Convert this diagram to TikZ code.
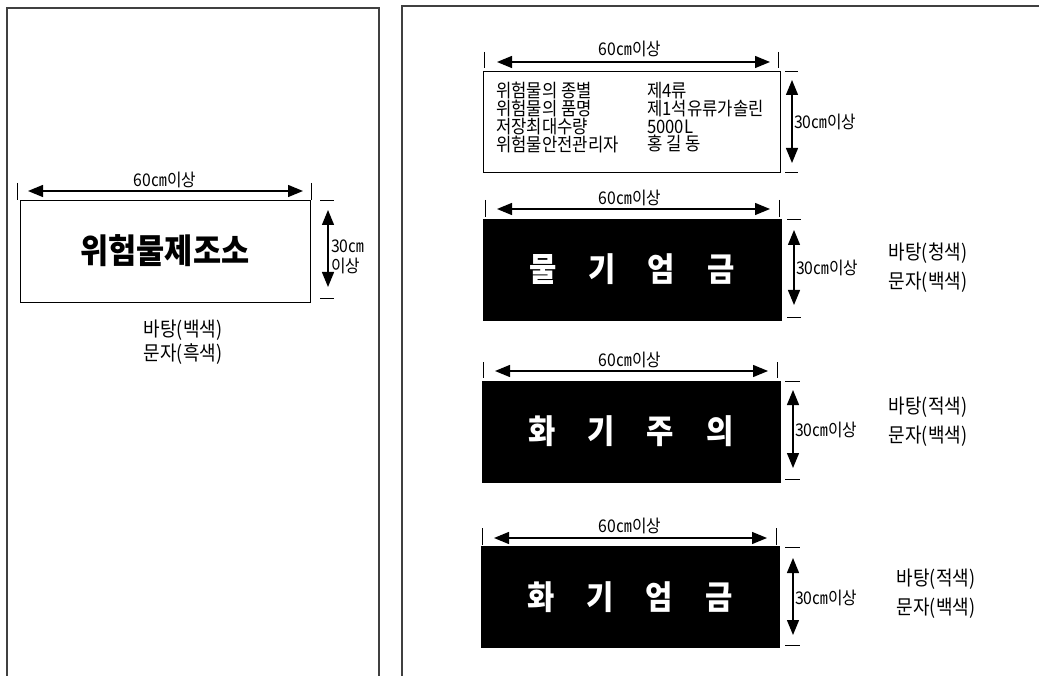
\documentclass[tikz,border=0pt]{standalone}
\usepackage{fontspec}
\setmainfont[FakeStretch=0.9]{Noto Sans CJK KR}
\usetikzlibrary{arrows.meta}
\tikzset{
  panel/.style={draw=black!75, line width=1.3pt},
  signbox/.style={draw=black, line width=0.9pt, inner sep=0pt, minimum width=298pt, minimum height=101pt},
  blacksign/.style={fill=black, draw=black, inner sep=0pt, minimum width=298pt, minimum height=101pt,
    font=\fontsize{33}{33}\selectfont\bfseries, text=white},
  dimarrow/.style={line width=1.3pt, {Triangle[length=15pt,width=12pt]}-{Triangle[length=15pt,width=12pt]}},
  tickline/.style={line width=0.9pt},
  dimtext/.style={font=\fontsize{17.5}{20}\selectfont, inner sep=0pt},
  notetext/.style={font=\fontsize{20}{29}\selectfont, align=center, inner sep=0pt},
  infotext/.style={font=\fontsize{18.5}{17.7}\selectfont, align=left, inner sep=0pt, anchor=west},
}
\newcommand\gapsp{\hspace{32pt}}
\begin{document}
\begin{tikzpicture}[x=1pt,y=-1pt]
\useasboundingbox (0,0) rectangle (1039,676);
% panels
\draw[panel] (7,676) -- (7,8) -- (379,8) -- (379,676);
\draw[panel] (402,676) -- (402,6) -- (1039,6);

% ---------- left sign ----------
\node[signbox, minimum width=290pt, minimum height=102pt, font=\fontsize{34}{34}\selectfont\bfseries] (s0) at (165,251) {위험물제조소};
\draw[tickline] (17,183) -- (17,200);
\draw[tickline] (311,183) -- (311,200);
\coordinate (w0a) at (28,191); \coordinate (w0b) at (303,191);
\draw[dimarrow] (w0a) -- (w0b);
\node[dimtext] (l0) at (165,180) {60㎝이상};
\draw[tickline] (320,200) -- (334,200);
\draw[tickline] (320,298) -- (334,298);
\coordinate (h0a) at (328,210); \coordinate (h0b) at (328,287);
\draw[dimarrow] (h0a) -- (h0b);
\node[dimtext, anchor=west, align=left] (k0) at (331,257) {30㎝\\이상};
\node[notetext, font=\fontsize{20}{24}\selectfont] (n0) at (183,342) {바탕(백색)\\문자(흑색)};

% ---------- info sign ----------
\node[signbox, minimum width=297pt] (s1) at (631.5,121.5) {};
\draw[tickline] (484,52) -- (484,68);
\draw[tickline] (778,52) -- (778,68);
\coordinate (w1a) at (497,62); \coordinate (w1b) at (770,62);
\draw[dimarrow] (w1a) -- (w1b);
\node[dimtext] (l1) at (630,49) {60㎝이상};
\draw[tickline] (785,71) -- (798,71);
\draw[tickline] (785,172) -- (798,172);
\coordinate (h1a) at (792,80); \coordinate (h1b) at (792,163);
\draw[dimarrow] (h1a) -- (h1b);
\node[dimtext, anchor=west] (k1) at (794,122) {30㎝이상};
\node[infotext] (i1) at (496,117.5) {위험물의 종별\\위험물의 품명\\저장최대수량\\위험물안전관리자};
\node[infotext] (i2) at (647,117.5) {제4류\\제1석유류가솔린\\5000L\\홍 길 동};

% ---------- sign 2 ----------
\node[blacksign] (s2) at (632,269.5) {물\gapsp 기\gapsp 엄\gapsp 금};
\draw[tickline] (485,200) -- (485,217);
\draw[tickline] (779,200) -- (779,217);
\coordinate (w2a) at (497,209); \coordinate (w2b) at (770,209);
\draw[dimarrow] (w2a) -- (w2b);
\node[dimtext] (l2) at (630,198) {60㎝이상};
\draw[tickline] (787,219) -- (801,219);
\draw[tickline] (787,317) -- (801,317);
\coordinate (h2a) at (794,230); \coordinate (h2b) at (794,305);
\draw[dimarrow] (h2a) -- (h2b);
\node[dimtext, anchor=west] (k2) at (796,268) {30㎝이상};
\node[notetext] (n2) at (928,268) {바탕(청색)\\문자(백색)};

% ---------- sign 3 ----------
\node[blacksign] (s3) at (631,431.5) {화\gapsp 기\gapsp 주\gapsp 의};
\draw[tickline] (483,362) -- (483,378);
\draw[tickline] (777,362) -- (777,378);
\coordinate (w3a) at (495,371); \coordinate (w3b) at (768,371);
\draw[dimarrow] (w3a) -- (w3b);
\node[dimtext] (l3) at (630,360) {60㎝이상};
\draw[tickline] (785,381) -- (800,381);
\draw[tickline] (785,479) -- (800,479);
\coordinate (h3a) at (793,390); \coordinate (h3b) at (793,468);
\draw[dimarrow] (h3a) -- (h3b);
\node[dimtext, anchor=west] (k3) at (795,430) {30㎝이상};
\node[notetext] (n3) at (928,422) {바탕(적색)\\문자(백색)};

% ---------- sign 4 ----------
\node[blacksign] (s4) at (630,597) {화\gapsp 기\gapsp 엄\gapsp 금};
\draw[tickline] (482,528) -- (482,545);
\draw[tickline] (776,528) -- (776,545);
\coordinate (w4a) at (494,538); \coordinate (w4b) at (767,538);
\draw[dimarrow] (w4a) -- (w4b);
\node[dimtext] (l4) at (630,526) {60㎝이상};
\draw[tickline] (785,547) -- (800,547);
\draw[tickline] (785,645) -- (800,645);
\coordinate (h4a) at (793,558); \coordinate (h4b) at (793,635);
\draw[dimarrow] (h4a) -- (h4b);
\node[dimtext, anchor=west] (k4) at (795,598) {30㎝이상};
\node[notetext] (n4) at (936,594) {바탕(적색)\\문자(백색)};
\end{tikzpicture}
\end{document}
